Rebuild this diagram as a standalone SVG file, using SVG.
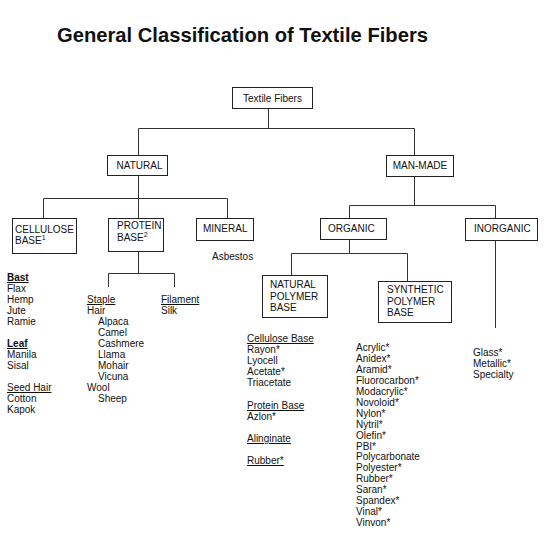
<svg xmlns="http://www.w3.org/2000/svg" width="544" height="546" viewBox="0 0 544 546">
<style>
text{font-family:"Liberation Sans",Arial,sans-serif;font-size:10px;fill:#111}
.title{font-size:20.2px;font-weight:bold}
.box{fill:#fff;stroke:#222;stroke-width:1}
.c{text-anchor:middle}
.u{text-decoration:underline}
.b{font-weight:bold}
#connectors path{fill:none;stroke:#333;stroke-width:1}
</style>
<rect width="544" height="546" fill="#fff"/>
<text class="title" x="57" y="42">General Classification of Textile Fibers</text>
<g id="connectors">
<path d="M268.5 108V128.5M138.5 128.5H414.5M138.5 128.5V155M414.5 128.5V155"/>
<path d="M138.5 175V198.5M43.5 198.5H227.5M43.5 198.5V218M138.5 198.5V218M227.5 198.5V218"/>
<path d="M138.5 251V273.5M108.5 273.5H174.5M108.5 273.5V287M174.5 273.5V287"/>
<path d="M414.5 176V205.5M349.5 205.5H495.5M349.5 205.5V218M495.5 205.5V218"/>
<path d="M349.5 239V253.5M291.5 253.5H407.5M291.5 253.5V275M407.5 253.5V281"/>
<path d="M495.5 240V328"/>
</g>
<g id="textile-fibers">
<rect class="box" x="232.5" y="87.5" width="80" height="21"/>
<text class="c" x="272.5" y="101.5">Textile Fibers</text>
</g>
<g id="natural">
<rect class="box" x="107.5" y="155.5" width="60" height="20"/>
<text class="c" x="139.5" y="168.5">NATURAL</text>
</g>
<g id="man-made">
<rect class="box" x="386.5" y="155.5" width="67" height="21"/>
<text class="c" x="420" y="168.5">MAN-MADE</text>
</g>
<g id="cellulose-base">
<rect class="box" x="12.5" y="218.5" width="64" height="35"/>
<text x="15" y="233">CELLULOSE</text>
<text x="15" y="244">BASE<tspan font-size="7" dy="-4">1</tspan></text>
</g>
<g id="protein-base">
<rect class="box" x="108.5" y="218.5" width="55" height="33"/>
<text x="117" y="228.5">PROTEIN</text>
<text x="117" y="240.5">BASE<tspan font-size="7" dy="-4">2</tspan></text>
</g>
<g id="mineral">
<rect class="box" x="196.5" y="218.5" width="57" height="22"/>
<text x="203" y="232">MINERAL</text>
</g>
<text x="212" y="260">Asbestos</text>
<g id="organic">
<rect class="box" x="320.5" y="218.5" width="66" height="21"/>
<text x="328" y="232">ORGANIC</text>
</g>
<g id="inorganic">
<rect class="box" x="465.5" y="218.5" width="72" height="22"/>
<text x="474" y="232">INORGANIC</text>
</g>
<g id="natural-polymer-base">
<rect class="box" x="262.5" y="275.5" width="65" height="42"/>
<text x="270" y="288">NATURAL</text>
<text x="270" y="299.5">POLYMER</text>
<text x="270" y="311">BASE</text>
</g>
<g id="synthetic-polymer-base">
<rect class="box" x="378.5" y="281.5" width="73" height="41"/>
<text x="387" y="293">SYNTHETIC</text>
<text x="387" y="304.5">POLYMER</text>
<text x="387" y="316">BASE</text>
</g>
<g id="cellulose-list">
<text x="7" y="281" class="u b">Bast</text>
<text x="7" y="292">Flax</text>
<text x="7" y="303">Hemp</text>
<text x="7" y="314">Jute</text>
<text x="7" y="325">Ramie</text>
<text x="7" y="347" class="u b">Leaf</text>
<text x="7" y="358">Manila</text>
<text x="7" y="369">Sisal</text>
<text x="7" y="391" class="u">Seed Hair</text>
<text x="7" y="402">Cotton</text>
<text x="7" y="413">Kapok</text>
</g>
<g id="protein-list">
<text x="87" y="303" class="u">Staple</text>
<text x="87" y="314">Hair</text>
<text x="98" y="325">Alpaca</text>
<text x="98" y="336">Camel</text>
<text x="98" y="347">Cashmere</text>
<text x="98" y="358">Llama</text>
<text x="98" y="369">Mohair</text>
<text x="98" y="380">Vicuna</text>
<text x="87" y="391">Wool</text>
<text x="98" y="402">Sheep</text>
<text x="161" y="303" class="u">Filament</text>
<text x="161" y="314">Silk</text>
</g>
<g id="natural-polymer-list">
<text x="247" y="342" class="u">Cellulose Base</text>
<text x="247" y="353">Rayon*</text>
<text x="247" y="364">Lyocell</text>
<text x="247" y="375">Acetate*</text>
<text x="247" y="386">Triacetate</text>
<text x="247" y="409" class="u">Protein Base</text>
<text x="247" y="420">Azlon*</text>
<text x="247" y="442" class="u">Alinginate</text>
<text x="247" y="464" class="u">Rubber*</text>
</g>
<g id="synthetic-list">
<text x="356" y="351">Acrylic*</text>
<text x="356" y="362">Anidex*</text>
<text x="356" y="373">Aramid*</text>
<text x="356" y="384">Fluorocarbon*</text>
<text x="356" y="395">Modacrylic*</text>
<text x="356" y="406">Novoloid*</text>
<text x="356" y="417">Nylon*</text>
<text x="356" y="428">Nytril*</text>
<text x="356" y="438.5">Olefin*</text>
<text x="356" y="449.5">PBI*</text>
<text x="356" y="460">Polycarbonate</text>
<text x="356" y="471">Polyester*</text>
<text x="356" y="482">Rubber*</text>
<text x="356" y="493">Saran*</text>
<text x="356" y="504">Spandex*</text>
<text x="356" y="515">Vinal*</text>
<text x="356" y="526">Vinvon*</text>
</g>
<g id="inorganic-list">
<text x="473" y="356">Glass*</text>
<text x="473" y="367">Metallic*</text>
<text x="473" y="378">Specialty</text>
</g>
</svg>
